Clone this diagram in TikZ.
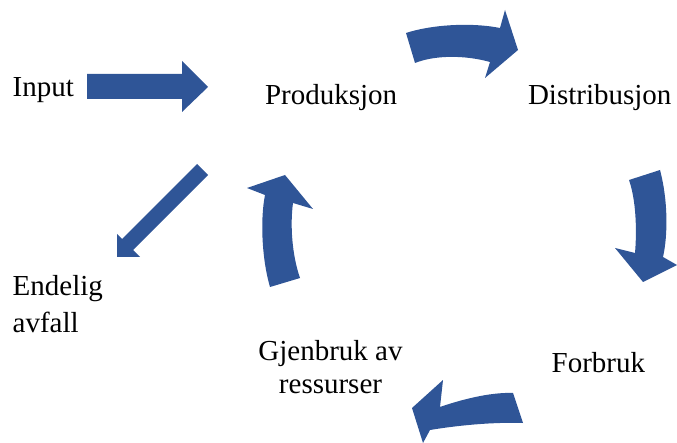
\documentclass[tikz,border=0pt]{standalone}
\usepackage{fontspec}
\setmainfont{Liberation Serif}
\definecolor{arrowblue}{RGB}{47,85,151}
\tikzset{
  blockarrow/.style={fill=arrowblue, draw=none},
  lbl/.style={inner sep=0pt, outer sep=0pt, font=\fontsize{29}{34}\selectfont}
}
\begin{document}
\begin{tikzpicture}[x=1pt,y=-1pt]
\useasboundingbox (0,0) rectangle (677,443);
% labels
\node[lbl, anchor=base west] (input) at (12.7,96.7) {Input};
\node[lbl, anchor=base west] (prod) at (265,105) {Produksjon};
\node[lbl, anchor=base west] (dist) at (528,105) {Distribusjon};
\node[lbl, anchor=base west] (forb) at (551.7,373) {Forbruk};
\node[lbl, anchor=base west, align=left, font=\fontsize{29}{36.7}\selectfont] (avfall) at (12.7,332.7) {Endelig\\avfall};
\node[lbl, anchor=base, align=center, font=\fontsize{29}{32.3}\selectfont] (gjen) at (330.5,393) {Gjenbruk av\\ressurser};
% straight arrows
\path[blockarrow] (87,74) -- (182,74) -- (182,61) -- (208,87) -- (182,112) -- (182,99) -- (87,99) -- cycle;
\path[blockarrow] (197,164) -- (122,239) -- (117,234) -- (117,257) -- (140,257) -- (133,250) -- (208,175) -- cycle;
% curved arrows
\path[blockarrow] (406,33) .. controls (430,25) and (470,22) .. (500,28) -- (505,10) -- (518,50) -- (485,78) -- (490,62) .. controls (465,55) and (435,55) .. (415,63) -- cycle;
\path[blockarrow] (629,180) -- (660,170) .. controls (668,200) and (668,235) .. (663,257) -- (677,265) -- (643,282) -- (615,248) -- (635,253) .. controls (637,230) and (636,200) .. (629,180) -- cycle;
\path[blockarrow] (513,393) .. controls (490,392) and (460,400) .. (440,407) -- (443,380) -- (412,408) -- (423,443) -- (430,430) .. controls (460,425) and (495,422) .. (523,423) -- cycle;
\path[blockarrow] (270,287) .. controls (262,260) and (260,220) .. (265,195) -- (247,188) -- (285,175) -- (313,209) -- (293,203) .. controls (290,225) and (292,255) .. (300,278) -- cycle;
\end{tikzpicture}
\end{document}
